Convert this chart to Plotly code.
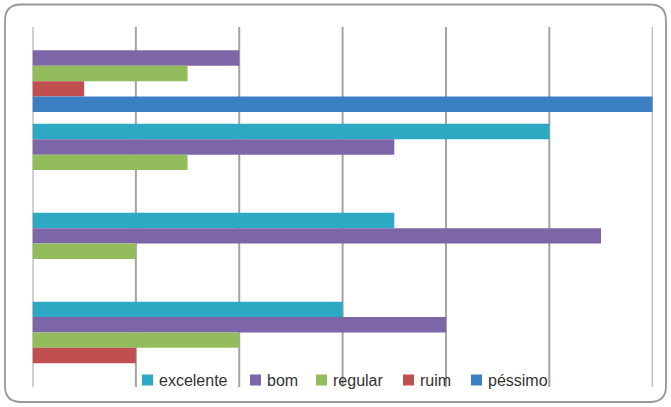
import plotly.graph_objects as go

W, H = 671, 407

# Survey answers per group (four groups, top to bottom)
groups = ["1", "2", "3", "4"]
series = ["excelente", "bom", "regular", "ruim", "péssimo"]
excelente = [0, 10, 7, 6]
bom = [4, 7, 11, 8]
regular = [3, 3, 2, 4]
ruim = [1, 0, 0, 2]
pessimo = [12, 0, 0, 0]
values = [excelente, bom, regular, ruim, pessimo]
colors = ["#2DA9C3", "#7D66A8", "#93BD5D", "#C0504F", "#3A7FC1"]
x_ticks = [0, 2, 4, 6, 8, 10, 12]

# plot area in pixels
PL, PR, PT, PB = 32.5, 652.7, 29.0, 384.6


def px(x):
    return x / W


def py(y):
    return 1 - y / H


fig = go.Figure()
for name, vals, col in zip(series, values, colors):
    fig.add_trace(go.Bar(
        y=groups, x=vals, name=name, orientation="h",
        marker=dict(color=col, line=dict(width=0)),
        showlegend=False,
    ))

shapes = []
annotations = []

# vertical grid lines, running a little past the plot area
for t in x_ticks:
    shapes.append(dict(type="line", xref="x", yref="paper", x0=t, x1=t,
                       y0=py(387), y1=py(27), layer="below",
                       line=dict(color="#A3A3A3", width=2)))

# rounded outer frame
x0, y0, x1, y1, r = px(5), py(4.5), px(666), py(402), 16
rx, ry = r / W, r / H
path = (f"M{x0 + rx},{y0} L{x1 - rx},{y0} Q{x1},{y0} {x1},{y0 - ry} "
        f"L{x1},{y1 + ry} Q{x1},{y1} {x1 - rx},{y1} "
        f"L{x0 + rx},{y1} Q{x0},{y1} {x0},{y1 + ry} "
        f"L{x0},{y0 - ry} Q{x0},{y0} {x0 + rx},{y0} Z")
shapes.append(dict(type="path", path=path, xref="paper", yref="paper",
                   line=dict(color="#979797", width=1.8), layer="above"))

# legend row drawn along the bottom
legend_x = [142, 250, 316, 403, 471]
sq = 11
ly = 380
for name, col, lx in zip(series, colors, legend_x):
    shapes.append(dict(type="rect", xref="paper", yref="paper",
                       x0=px(lx), x1=px(lx + sq), y0=py(ly - sq / 2), y1=py(ly + sq / 2),
                       fillcolor=col, line=dict(width=0), layer="above"))
    annotations.append(dict(text=name, xref="paper", yref="paper",
                            x=px(lx + sq + 3.5), y=py(ly + 0.5), xanchor="left", yanchor="middle",
                            showarrow=False,
                            font=dict(family="Liberation Sans", size=16, color="#333333")))

fig.update_layout(
    width=W, height=H,
    margin=dict(l=0, r=0, t=0, b=0),
    paper_bgcolor="white", plot_bgcolor="white",
    barmode="group", bargap=0.134, bargroupgap=0,
    xaxis=dict(domain=[px(PL), px(PR)], range=[0, 12], tickvals=x_ticks,
               showticklabels=False, showgrid=False,
               zeroline=False, showline=False),
    yaxis=dict(domain=[py(PB), py(PT)], autorange="reversed",
               showticklabels=False, showgrid=False, zeroline=False, showline=False),
    shapes=shapes,
    annotations=annotations,
)

fig.write_html("out.html")
